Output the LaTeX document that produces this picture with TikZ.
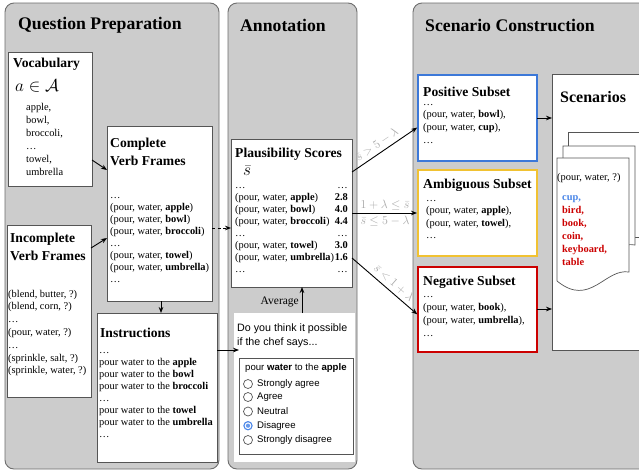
\documentclass[tikz,border=0pt]{standalone}
\usepackage{fontspec}
\setmainfont{Liberation Serif}
\newfontfamily\cardfont{Liberation Sans}
\usetikzlibrary{arrows.meta,calc}
\definecolor{panelfill}{HTML}{CCCCCC}
\definecolor{panelline}{HTML}{6E6E6E}
\definecolor{boxline}{HTML}{555555}
\definecolor{posblue}{HTML}{3C78D8}
\definecolor{ambyellow}{HTML}{F1C232}
\definecolor{negred}{HTML}{CC0000}
\definecolor{cupblue}{HTML}{4A86E8}
\definecolor{lblgray}{HTML}{A8A8A8}
\begin{document}
\begin{tikzpicture}[x=1pt,y=-1pt,
  panel/.style={draw=panelline, fill=panelfill, rounded corners=9pt, line width=0.9pt},
  wbox/.style={draw=boxline, fill=white, line width=0.8pt, anchor=north west, inner sep=0, outer sep=0},
  subbox/.style={draw=#1, fill=white, line width=2.6pt, anchor=north west, inner sep=0, outer sep=0},
  ttl/.style={font=\fontsize{17.7}{20}\selectfont\bfseries, anchor=west, inner sep=0},
  btl/.style={font=\fontsize{13.6}{18}\selectfont\bfseries, anchor=west, inner sep=0, align=left},
  lst/.style={font=\fontsize{10.4}{#1}\selectfont, anchor=north west, inner sep=0, align=left},
  lst/.default=12,
  arr/.style={-{Stealth[length=6pt,width=4.6pt]}, line width=0.9pt, black},
  lbl/.style={font=\fontsize{12}{14}\selectfont, text=lblgray, inner sep=1.5pt},
  page/.style={draw=boxline, fill=white, line width=0.7pt},
  radio/.style={draw=boxline, fill=white, line width=0.7pt},
  opt/.style={font=\cardfont\fontsize{9.6}{11}\selectfont, anchor=west, inner sep=0},
]
\useasboundingbox (0,0) rectangle (639,472);
\clip (0,0) rectangle (639,472);
\fill[white] (0,0) rectangle (639,472);

% panels
\path[panel] (5,3) rectangle (219,469);
\path[panel] (228,3) rectangle (357,469);
\path[panel] (413,3) rectangle (680,469);
\node[ttl] (t1) at (18,25) {Question Preparation};
\node[ttl] (t2) at (240,25) {Annotation};
\node[ttl] (t3) at (425,25) {Scenario Construction};

% ---------- Question Preparation ----------
\node[wbox, minimum width=84pt, minimum height=134pt] (voc) at (8,52) {};
\node[btl] (vocT) at (13,64) {Vocabulary};
\node[anchor=west, inner sep=0, font=\fontsize{19}{22}\selectfont] (vocM) at (15,86) {$a \in \mathcal{A}$};
\node[lst=13] (vocL) at (26,101) {\strut apple,\\bowl,\\broccoli,\\…\\towel,\\umbrella};

\node[wbox, minimum width=105pt, minimum height=175pt] (cvf) at (107,126) {};
\node[btl] (cvfT) at (110,152) {Complete\\Verb Frames};
\node[lst=12] (cvfL) at (110,190) {\strut…\\(pour, water, \textbf{apple})\\(pour, water, \textbf{bowl})\\(pour, water, \textbf{broccoli})\\…\\(pour, water, \textbf{towel})\\(pour, water, \textbf{umbrella})\\…};

\node[wbox, minimum width=84pt, minimum height=172pt] (inc) at (7,225) {};
\node[btl] (incT) at (10,247) {Incomplete\\Verb Frames};
\node[lst=12.8] (incL) at (8,288) {\strut(blend, butter, ?)\\(blend, corn, ?)\\…\\(pour, water, ?)\\…\\(sprinkle, salt, ?)\\(sprinkle, water, ?)};

\node[wbox, minimum width=120pt, minimum height=149pt] (instr) at (97,313) {};
\node[btl] (instrT) at (100,333) {Instructions};
\node[lst=12] (instrL) at (99,345) {\strut…\\pour water to the \textbf{apple}\\pour water to the \textbf{bowl}\\pour water to the \textbf{broccoli}\\…\\pour water to the \textbf{towel}\\pour water to the \textbf{umbrella}\\…};

% ---------- Annotation ----------
\node[wbox, minimum width=121pt, minimum height=148pt] (plaus) at (231,139) {};
\node[btl] (plausT) at (235,154) {Plausibility Scores};
\node[anchor=west, inner sep=0, font=\fontsize{17}{20}\selectfont] (sbar) at (243,171) {$\bar{s}$};
\node[lst=12] (plausL) at (235,180) {\strut…\\(pour, water, \textbf{apple})\\(pour, water, \textbf{bowl})\\(pour, water, \textbf{broccoli})\\…\\(pour, water, \textbf{towel})\\(pour, water, \textbf{umbrella})\\…};
\node[lst=12, anchor=north east, align=right] (plausS) at (348,180) {\strut…\\\textbf{2.8}\\\textbf{4.0}\\\textbf{4.4}\\…\\\textbf{3.0}\\\textbf{1.6}\\…};

\node[anchor=north west, fill=white, minimum width=121pt, minimum height=149pt, inner sep=0, outer sep=0] (card) at (234,313) {};
\node[font=\cardfont\fontsize{10.7}{14}\selectfont, anchor=north west, inner sep=0, align=left] (cardQ) at (237,321) {\strut Do you think it possible\\if the chef says...};
\node[draw=boxline, line width=0.8pt, fill=white, anchor=north west, minimum width=114pt, minimum height=96pt, inner sep=0, outer sep=0] (opts) at (239,358) {};
\node[opt] (optH) at (245,368) {pour \textbf{water} to the \textbf{apple}};
\draw[radio] (248,384) circle (4.5);
\node[opt] (o1) at (257,384) {Strongly agree};
\draw[radio] (248,397) circle (4.5);
\node[opt] (o2) at (257,397) {Agree};
\draw[radio] (248,411.5) circle (4.5);
\node[opt] (o3) at (257,411.5) {Neutral};
\draw[draw=cupblue, fill=white, line width=1.1pt] (248,425.7) circle (4.1);
\fill[cupblue!85] (248,425.7) circle (2.1);
\node[opt] (o4) at (257,425.7) {Disagree};
\draw[radio] (248,440) circle (4.5);
\node[opt] (o5) at (257,440) {Strongly disagree};

\node[anchor=east, inner sep=0, font=\fontsize{11.5}{13}\selectfont] (avg) at (299,302) {Average};

% ---------- Scenario Construction ----------
\node[subbox=posblue, minimum width=119pt, minimum height=86pt] (pos) at (418,75) {};
\node[btl] (posT) at (423,92) {Positive Subset};
\node[lst=12.7] (posL) at (423,96) {\strut…\\(pour, water, \textbf{bowl}),\\(pour, water, \textbf{cup}),\\…};

\node[subbox=ambyellow, minimum width=119pt, minimum height=86pt] (amb) at (418,170) {};
\node[btl] (ambT) at (423,185) {Ambiguous Subset};
\node[lst=12.2] (ambL) at (426,193) {\strut…\\(pour, water, \textbf{apple}),\\(pour, water, \textbf{towel}),\\…};

\node[subbox=negred, minimum width=119pt, minimum height=85pt] (neg) at (418,267) {};
\node[btl] (negT) at (423,282) {Negative Subset};
\node[lst=12.8] (negL) at (423,288.5) {\strut…\\(pour, water, \textbf{book}),\\(pour, water, \textbf{umbrella}),\\…};

\node[wbox, minimum width=130pt, minimum height=276pt] (scen) at (552,74) {};
\node[btl, font=\fontsize{16}{18}\selectfont\bfseries] (scenT) at (560,97) {Scenarios};

% stacked pages
\path[page] (568,132) -- (650,132) -- (650,237) -- (568,237) -- cycle;
\path[page] (563,146) -- (635,146) -- (635,245) .. controls (612,241) and (598,268) .. (563,256) -- cycle;
\path[page] (557,158) -- (629,158) -- (629,272) .. controls (605,268) and (590,308) .. (557,281) -- cycle;
\node[anchor=west, inner sep=0, font=\fontsize{10.4}{12}\selectfont] (docH) at (557,178) {(pour, water, ?)};
\node[lst=13, font=\fontsize{10.4}{13}\selectfont\bfseries] (docL) at (562,191) {\strut\textcolor{cupblue}{cup,}\\\textcolor{negred}{bird,}\\\textcolor{negred}{book,}\\\textcolor{negred}{coin,}\\\textcolor{negred}{keyboard,}\\\textcolor{negred}{table}};

% ---------- connectors ----------
\draw[arr] (voc.east |- 0,160) -- (cvf.west |- 0,170);
\draw[arr] (inc.east |- 0,248) -- (cvf.west |- 0,238);
\draw[arr] (cvf.south -| 161,0) -- (instr.north -| 161,0);
\draw[arr, dash pattern=on 3pt off 2.5pt] (cvf.east |- 0,228) -- (plaus.west |- 0,228);
\draw[arr] (instr.east |- 0,350) -- (opts.west |- 0,350);
\draw[arr] (card.north -| 302,0) -- (plaus.south -| 302,0);

\draw[arr, shorten >=1pt] (plaus.east |- 0,172) -- (pos.west |- 0,127)
  node[lbl, sloped, above=2pt, pos=0.45] (l1) {$\bar{s} > 5-\lambda$};
\draw[arr, shorten >=1pt] (plaus.east |- 0,213) -- (amb.west |- 0,213)
  node[lbl, above=1pt, pos=0.5] (l2) {$1+\lambda \leq \bar{s}$}
  node[lbl, below=1pt, pos=0.5] (l3) {$\bar{s} \leq 5-\lambda$};
\draw[arr, shorten >=1pt] (plaus.east |- 0,258) -- (neg.west |- 0,315)
  node[lbl, sloped, above=2pt, pos=0.55] (l4) {$\bar{s} < 1+\lambda$};

\draw[arr] (pos.east |- 0,118) -- (scen.west |- 0,118);
\draw[arr] (neg.east |- 0,309) -- (scen.west |- 0,309);
\end{tikzpicture}
\end{document}
